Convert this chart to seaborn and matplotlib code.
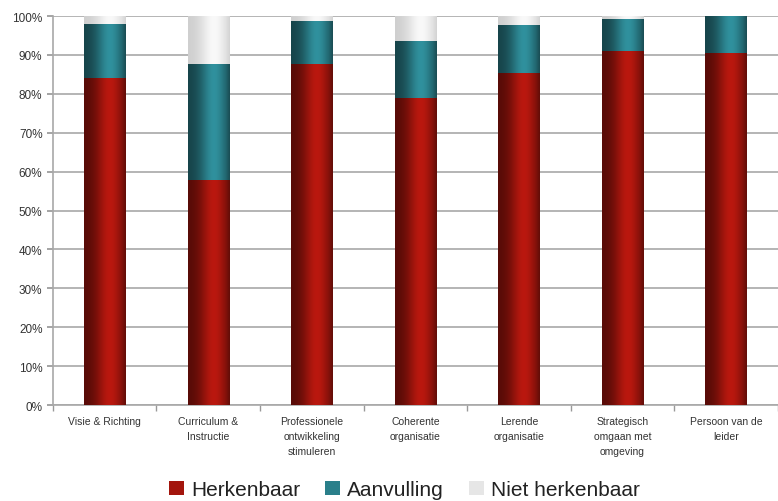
import numpy as np
import pandas as pd
import matplotlib
matplotlib.use("Agg")
import matplotlib.pyplot as plt
from matplotlib.patches import Patch
from matplotlib.ticker import FixedLocator, PercentFormatter
import seaborn as sns

categories = [
    "Visie & Richting",
    "Curriculum &\nInstructie",
    "Professionele\nontwikkeling\nstimuleren",
    "Coherente\norganisatie",
    "Lerende\norganisatie",
    "Strategisch\nomgaan met\nomgeving",
    "Persoon van de\nleider",
]
herkenbaar = [83.8, 57.7, 87.5, 78.9, 85.2, 90.9, 90.4]
aanvulling = [14.1, 29.8, 11.0, 14.6, 12.3, 8.2, 9.5]
niet_herkenbaar = [2.1, 12.5, 1.5, 6.5, 2.5, 0.9, 0.1]
series_names = ["Herkenbaar", "Aanvulling", "Niet herkenbaar"]
yticks = [0, 10, 20, 30, 40, 50, 60, 70, 80, 90, 100]

colors = {
    "Herkenbaar": "#a3150d",
    "Aanvulling": "#2a7f8a",
    "Niet herkenbaar": "#e6e6e6",
}

sns.set_theme(style="white")
plt.rcParams["font.family"] = ["Liberation Sans Narrow", "Liberation Sans", "DejaVu Sans"]

fig = plt.figure(figsize=(7.78, 5.02), dpi=100)
ax = fig.add_axes([0.068, 0.191, 0.932, 0.775])

# cumulative tops of each stacked segment
stack = np.array([herkenbaar, aanvulling, niet_herkenbaar])
tops = np.cumsum(stack, axis=0)

df = pd.DataFrame({"categorie": categories})
# draw from the tallest segment down so lower segments sit in front
for idx in [2, 1, 0]:
    name = series_names[idx]
    df["waarde"] = tops[idx]
    sns.barplot(data=df, x="categorie", y="waarde", color=colors[name],
                width=0.4, saturation=1, ax=ax, zorder=3, errorbar=None)

# cylinder-like horizontal shading on each bar
profile_x = np.linspace(0, 1, 120)
shade = 0.52 + 0.62 * np.exp(-((profile_x - 0.62) / 0.33) ** 2)
shade[-12:] *= np.linspace(1.0, 0.88, 12)
for patch in list(ax.patches):
    base = np.array(matplotlib.colors.to_rgb(patch.get_facecolor()))
    if base.mean() > 0.8:
        img = np.clip(base[None, None, :] * (0.74 + 0.3 * shade[None, :, None]), 0, 1)
    else:
        img = np.clip(base[None, None, :] * shade[None, :, None], 0, 1)
    x0, w = patch.get_x(), patch.get_width()
    y0, h = patch.get_y(), patch.get_height()
    if h <= 0:
        continue
    ax.imshow(img, extent=(x0, x0 + w, y0, y0 + h), aspect="auto",
              zorder=patch.get_zorder() + 0.001, interpolation="bilinear")
    patch.set_visible(False)

ax.set_xlim(-0.5, len(categories) - 0.5)
ax.set_ylim(0, 100)
ax.set_yticks(yticks)
ax.yaxis.set_major_formatter(PercentFormatter(decimals=0))
ax.yaxis.grid(True, color="#b4b4b4", linewidth=1.4, zorder=0)
ax.set_axisbelow(True)
ax.set_xlabel("")
ax.set_ylabel("")

ax.xaxis.set_minor_locator(FixedLocator(np.arange(-0.5, len(categories), 1.0)))
ax.tick_params(axis="x", which="major", length=0, pad=8, labelsize=7.5, colors="#333333")
ax.tick_params(axis="x", which="minor", length=4, color="#999999", direction="out", bottom=True)
ax.tick_params(axis="y", which="major", length=4, color="#999999", direction="out",
               left=True, labelsize=8.5, colors="#333333")
for lbl in ax.get_xticklabels():
    lbl.set_linespacing(1.6)
    lbl.set_verticalalignment("top")

for side in ["top", "right"]:
    ax.spines[side].set_visible(False)
for side in ["left", "bottom"]:
    ax.spines[side].set_color("#a8a8a8")
    ax.spines[side].set_linewidth(1.2)

handles = [Patch(facecolor=colors[n], edgecolor="none", label=n) for n in series_names]
fig.legend(handles=handles, loc="center", bbox_to_anchor=(0.52, 0.022), ncol=3,
           frameon=False, fontsize=15, handlelength=0.7, handleheight=0.7,
           handletextpad=0.35, columnspacing=1.2, labelcolor="#222222")

fig.savefig("out.png", dpi=100)
